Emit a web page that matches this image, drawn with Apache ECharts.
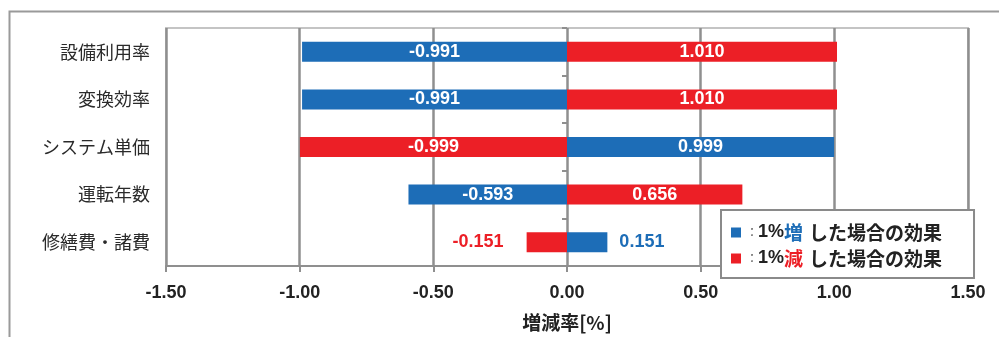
<!DOCTYPE html>
<html>
<head>
<meta charset="utf-8">
<script src="https://cdn.jsdelivr.net/npm/echarts@6/dist/echarts.min.js"></script>
<style>
  html, body { margin: 0; padding: 0; background: #fff; }
  #chart { width: 999px; height: 337px; }
</style>
</head>
<body>
<div id="chart"></div>
<script>
// Sensitivity of the result to a 1% change in each parameter
const categories = ['設備利用率', '変換効率', 'システム単価', '運転年数', '修繕費・諸費'];
const increaseValues = [-0.991, -0.991, 0.999, -0.593, 0.151];   // 1% increase
const decreaseValues = [1.010, 1.010, -0.999, 0.656, -0.151];    // 1% decrease
const xTicks = [-1.5, -1.0, -0.5, 0.0, 0.5, 1.0, 1.5];

const BLUE = '#1d6db7';
const RED = '#ec1f26';
const GRID_GRAY = '#8f8f8f';

const chart = echarts.init(document.getElementById('chart'));

// Inside labels in white; the small last row gets coloured labels outside the bars
function buildData(values, color) {
  return values.map((v, i) => {
    if (i === values.length - 1) {
      return {
        value: v,
        label: {
          position: v < 0 ? 'left' : 'right',
          distance: v < 0 ? 23 : 12,
          color: color
        }
      };
    }
    return v;
  });
}

const labelBase = {
  show: true,
  position: 'inside',
  color: '#fff',
  fontFamily: 'Liberation Sans, Arial, sans-serif',
  fontWeight: 'bold',
  fontSize: 18,
  formatter: p => p.value.toFixed(3)
};

const option = {
  backgroundColor: '#fff',
  animation: false,
  graphic: [{
    type: 'rect',
    left: 7, top: 9,
    shape: { width: 1010, height: 340 },
    style: { fill: 'none', stroke: '#9a9a9a', lineWidth: 2 },
    z: -10
  }],
  grid: {
    left: 166, right: 31, top: 28, bottom: 68,
    show: true,
    borderColor: '#c4c4c4',
    borderWidth: 2,
    backgroundColor: 'transparent'
  },
  legend: {
    orient: 'vertical',
    left: 721, top: 210,
    padding: [13, 32, 10, 10],
    itemWidth: 10, itemHeight: 10,
    itemGap: 7,
    icon: 'rect',
    backgroundColor: '#fff',
    borderColor: '#8a8a8a',
    borderWidth: 2,
    borderRadius: 0,
    data: ['inc', 'dec'],
    formatter: name => name === 'inc'
      ? '{c|：}{p|1%}{u|増}{t|した場合の効果}'
      : '{c|：}{p|1%}{d|減}{t|した場合の効果}',
    textStyle: {
      rich: {
        c: { fontSize: 12, color: '#555', fontFamily: 'Noto Sans CJK JP' },
        p: { fontSize: 18, fontWeight: 'bold', color: '#222', fontFamily: 'Liberation Sans, Arial' },
        u: { fontSize: 19, fontWeight: 'bold', color: BLUE, fontFamily: 'Noto Sans CJK JP' },
        d: { fontSize: 19, fontWeight: 'bold', color: RED, fontFamily: 'Noto Sans CJK JP' },
        t: { fontSize: 19, fontWeight: 'bold', color: '#222', fontFamily: 'Noto Sans CJK JP', padding: [0, 0, 0, 6] }
      }
    }
  },
  xAxis: {
    type: 'value',
    min: -1.5, max: 1.5, interval: 0.5,
    name: '増減率[%]',
    nameLocation: 'middle',
    nameGap: 47,
    nameTextStyle: {
      fontFamily: 'Noto Sans CJK JP', fontWeight: 'bold', fontSize: 19, color: '#222'
    },
    axisLine: { show: true, onZero: false, lineStyle: { color: GRID_GRAY, width: 2 } },
    axisTick: { show: true, length: 6, lineStyle: { color: GRID_GRAY, width: 2 } },
    axisLabel: {
      margin: 18,
      fontFamily: 'Liberation Sans, Arial, sans-serif',
      fontWeight: 'bold', fontSize: 18, color: '#222',
      formatter: v => {
        const t = xTicks.find(x => Math.abs(x - v) < 1e-9);
        return (t !== undefined ? t : v).toFixed(2);
      }
    },
    splitLine: { show: true, lineStyle: { color: GRID_GRAY, width: 2.5 } }
  },
  yAxis: [{
    type: 'category',
    inverse: true,
    data: categories,
    axisLine: { show: false },
    axisTick: { show: false },
    axisLabel: {
      margin: 16,
      fontFamily: 'Noto Sans CJK JP', fontSize: 18, color: '#2a2a2a'
    },
    splitLine: { show: false }
  }, {
    // tick marks between rows along the zero line
    type: 'category',
    inverse: true,
    data: categories,
    position: 'left',
    offset: -401,
    axisLine: { show: false },
    axisTick: { show: true, length: 5, lineStyle: { color: GRID_GRAY, width: 2 } },
    axisLabel: { show: false },
    splitLine: { show: false }
  }],
  series: [{
    name: 'inc',
    type: 'bar',
    barWidth: 20,
    barGap: '-100%',
    itemStyle: { color: BLUE },
    label: labelBase,
    data: buildData(increaseValues, BLUE),
    z: 3
  }, {
    name: 'dec',
    type: 'bar',
    barWidth: 20,
    barGap: '-100%',
    itemStyle: { color: RED },
    label: labelBase,
    data: buildData(decreaseValues, RED),
    z: 3
  }]
};

chart.setOption(option);
</script>
</body>
</html>
